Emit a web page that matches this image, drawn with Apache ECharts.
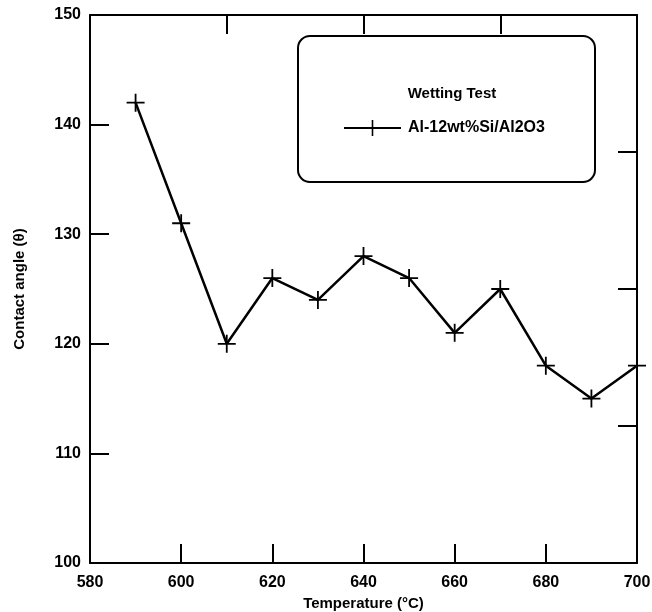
<!DOCTYPE html>
<html>
<head>
<meta charset="utf-8">
<script src="https://cdn.jsdelivr.net/npm/echarts@6/dist/echarts.min.js"></script>
<style>
html, body { margin: 0; padding: 0; background: #fff; }
#chart { width: 652px; height: 612px; }
</style>
</head>
<body>
<div id="chart"></div>
<script>
// 温度 / 接触角
const temperature = [590, 600, 610, 620, 630, 640, 650, 660, 670, 680, 690, 700];
const contactAngle = [142, 131, 120, 126, 124, 128, 126, 121, 125, 118, 115, 118];
const seriesName = 'Al-12wt%Si/Al2O3';

const plus = 'path://M-1,-10H1V-1H10V1H1V10H-1V1H-10V-1H-1Z';
const font = 'Liberation Sans, Arial, sans-serif';

var chart = echarts.init(document.getElementById('chart'));

const tick = { show: true, inside: true, length: 19, lineStyle: { color: '#000', width: 2 } };
const line = { show: true, onZero: false, lineStyle: { color: '#000', width: 2 } };
const labelStyle = { fontFamily: font, fontSize: 16, fontWeight: 'bold', color: '#000' };

var option = {
	animation: false,
	grid: { left: 90, right: 15, top: 15, bottom: 49, outerBoundsMode: 'none', containLabel: false },
	title: {
		text: 'Wetting Test',
		left: 447, top: 81, textAlign: 'center',
		textStyle: { fontFamily: font, fontSize: 15, fontWeight: 'bold', color: '#000' },
		z: 20
	},
	legend: {
		data: [seriesName],
		left: 338, top: 115,
		itemWidth: 57, itemHeight: 20, itemGap: 10,
		textStyle: { fontFamily: font, fontSize: 16, fontWeight: 'bold', color: '#000', padding: [0, 0, 0, 2] },
		z: 20
	},
	graphic: [{
		type: 'rect',
		shape: { x: 298, y: 36, width: 297, height: 146, r: 12 },
		style: { fill: '#fff', stroke: '#000', lineWidth: 2 },
		z: 10
	}],
	xAxis: [{
		type: 'value', min: 580, max: 700, interval: 20, position: 'bottom',
		name: 'Temperature (°C)', nameLocation: 'middle', nameGap: 32,
		nameTextStyle: { fontFamily: font, fontSize: 15, fontWeight: 'bold', color: '#000' },
		axisLine: line, axisTick: tick,
		axisLabel: Object.assign({ margin: 12 }, labelStyle),
		splitLine: { show: false }
	}, {
		type: 'value', min: 580, max: 700, interval: 30, position: 'top',
		axisLine: line, axisTick: tick, axisLabel: { show: false },
		splitLine: { show: false }
	}],
	yAxis: [{
		type: 'value', min: 100, max: 150, interval: 10, position: 'left',
		name: 'Contact angle (θ)', nameLocation: 'middle', nameGap: 63,
		nameTextStyle: { fontFamily: font, fontSize: 15, fontWeight: 'bold', color: '#000' },
		axisLine: line, axisTick: tick,
		axisLabel: Object.assign({ margin: 9 }, labelStyle),
		splitLine: { show: false }
	}, {
		type: 'value', min: 100, max: 150, interval: 12.5, position: 'right',
		axisLine: line, axisTick: tick, axisLabel: { show: false },
		splitLine: { show: false }
	}],
	series: [{
		name: seriesName,
		type: 'line',
		data: temperature.map((t, i) => [t, contactAngle[i]]),
		symbol: plus,
		symbolSize: 18,
		itemStyle: { color: '#000' },
		lineStyle: { color: '#000', width: 2.5 }
	}]
};

chart.setOption(option);
</script>
</body>
</html>
